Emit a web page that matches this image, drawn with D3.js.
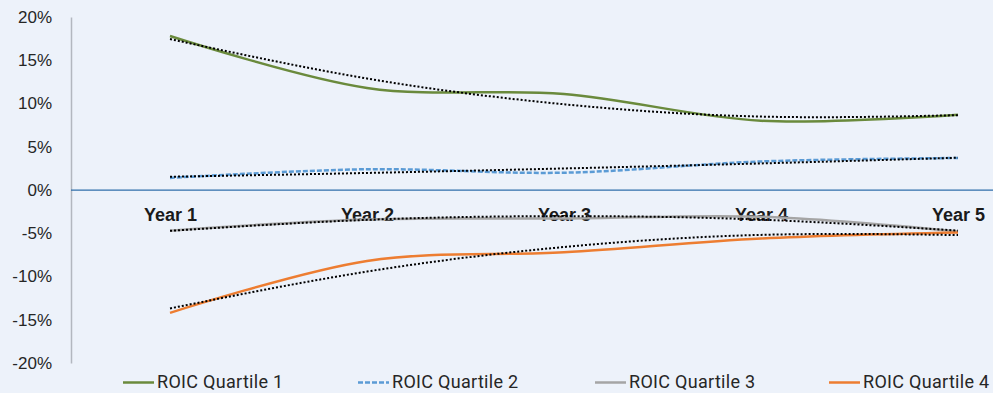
<!DOCTYPE html>
<html>
<head>
<meta charset="utf-8">
<script src="https://cdn.jsdelivr.net/npm/d3@7"></script>
<style>
  html, body { margin: 0; padding: 0; background: #edf2fa; }
  svg { display: block; font-family: Roboto, "Open Sans", sans-serif; }
</style>
</head>
<body>
<svg id="chart" width="993" height="393"></svg>
<script>
// Categories and values (fractions)
const years = ["Year 1", "Year 2", "Year 3", "Year 4", "Year 5"];
const yTicks = [-0.20, -0.15, -0.10, -0.05, 0, 0.05, 0.10, 0.15, 0.20];
const seriesNames = ["ROIC Quartile 1", "ROIC Quartile 2", "ROIC Quartile 3", "ROIC Quartile 4"];

const q1 = [0.178, 0.118, 0.111, 0.080, 0.087];
const q2 = [0.014, 0.024, 0.020, 0.033, 0.037];
const q3 = [-0.047, -0.034, -0.033, -0.031, -0.048];
const q4 = [-0.142, -0.082, -0.072, -0.056, -0.049];

// Polynomial (order 2) trendline values at each year
const q1Trend = [0.1745, 0.1289, 0.0991, 0.0849, 0.0865];
const q2Trend = [0.0153, 0.0197, 0.0249, 0.0307, 0.0373];
const q3Trend = [-0.0472, -0.0345, -0.0302, -0.0343, -0.0470];
const q4Trend = [-0.1369, -0.0943, -0.0659, -0.0519, -0.0521];

const svg = d3.select("#chart");

const x = d3.scalePoint().domain(years).range([170, 958]);
const y = d3.scaleLinear().domain([-0.2, 0.2]).range([363, 17]);

const locale = d3.formatLocale({decimal: ".", thousands: ",", grouping: [3], currency: ["", ""], minus: "-", percent: "%"});
const pct = locale.format(".0%");

// Y axis
const yAxis = svg.append("g")
  .attr("transform", "translate(71,0)")
  .call(d3.axisLeft(y).tickValues(yTicks).tickFormat(pct).tickSize(0).tickPadding(19));
yAxis.select(".domain").attr("stroke", "#b3b7bf").attr("stroke-width", 1.5);
yAxis.selectAll("text")
  .attr("fill", "#262626")
  .style("font-size", "17px");

// Zero line
svg.append("line")
  .attr("x1", 71).attr("x2", 993)
  .attr("y1", y(0)).attr("y2", y(0))
  .attr("stroke", "#2f6eaa").attr("stroke-width", 1.25);

// Category labels next to the zero line
const xAxis = svg.append("g")
  .attr("transform", `translate(0,${y(0)})`)
  .call(d3.axisBottom(x).tickSize(0).tickPadding(18));
xAxis.select(".domain").remove();
xAxis.selectAll("text")
  .attr("fill", "#1a1a1a")
  .style("font-size", "18px")
  .style("font-weight", "bold");

const styles = [
  {color: "#6a8a3c", dash: null},
  {color: "#5b9bd5", dash: "5,2"},
  {color: "#a5a5a5", dash: null},
  {color: "#ed7d31", dash: null}
];

const seriesData = [q1, q2, q3, q4];
const trendData = [q1Trend, q2Trend, q3Trend, q4Trend];

const smooth = d3.line()
  .x((d, i) => x(years[i]))
  .y(d => y(d))
  .curve(d3.curveCardinal.tension(0));

const trendLine = d3.line()
  .x((d, i) => x(years[i]))
  .y(d => y(d))
  .curve(d3.curveNatural);

// Series lines
svg.append("g").selectAll("path")
  .data(seriesData)
  .join("path")
  .attr("d", d => smooth(d))
  .attr("fill", "none")
  .attr("stroke", (d, i) => styles[i].color)
  .attr("stroke-width", 2.5)
  .attr("stroke-dasharray", (d, i) => styles[i].dash);

// Dotted trendlines
svg.append("g").selectAll("path")
  .data(trendData)
  .join("path")
  .attr("d", d => trendLine(d))
  .attr("fill", "none")
  .attr("stroke", "#000")
  .attr("stroke-width", 2)
  .attr("stroke-dasharray", "2,2");

// Legend
const legendX = [123, 358, 595, 829];
const legend = svg.append("g").selectAll("g")
  .data(seriesNames)
  .join("g")
  .attr("transform", (d, i) => `translate(${legendX[i]},382.5)`);
legend.append("line")
  .attr("x1", 0).attr("x2", 31).attr("y1", 0).attr("y2", 0)
  .attr("stroke", (d, i) => styles[i].color)
  .attr("stroke-width", 2.5)
  .attr("stroke-dasharray", (d, i) => styles[i].dash);
legend.append("text")
  .attr("x", 34).attr("y", 0).attr("dy", "0.33em")
  .attr("fill", "#262626")
  .style("font-size", "18px")
  .style("letter-spacing", "0.3px")
  .text(d => d);
</script>
</body>
</html>
